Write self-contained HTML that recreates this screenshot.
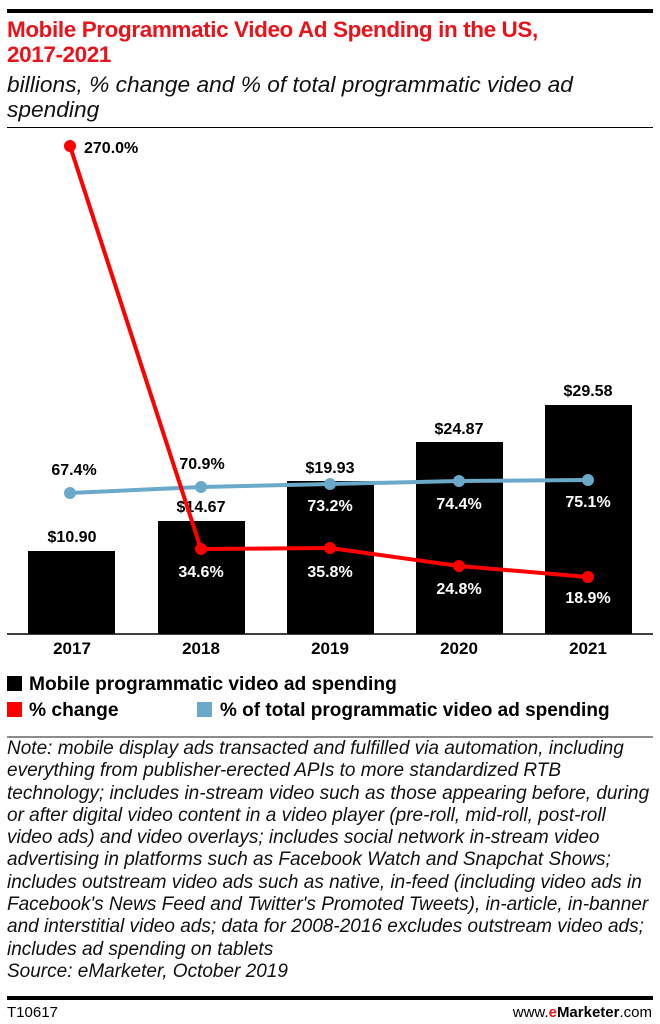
<!DOCTYPE html>
<html><head><meta charset="utf-8"><style>
body{margin:0;background:#fff;width:660px;height:1024px;position:relative;overflow:hidden;font-family:"Liberation Sans",sans-serif}
.a{position:absolute;white-space:nowrap}
.t{color:#e8141b;font-weight:bold;font-size:22.5px;line-height:25px;left:7px;letter-spacing:-0.4px}
.s{font-style:italic;font-size:22.5px;line-height:25px;left:7px;color:#111;transform:scaleX(1.01);transform-origin:left top}
.n{font-style:italic;font-size:19px;line-height:22.3px;left:7px;top:738px;color:#111;transform:scaleX(1.0);transform-origin:left top}
</style></head><body>
<div class="a" style="left:7px;top:9px;width:646px;height:4px;background:#000"></div>
<div class="a t" style="top:17px">Mobile Programmatic Video Ad Spending in the US,<br>2017-2021</div>
<div class="a s" style="top:72px">billions, % change and % of total programmatic video ad<br>spending</div>
<div class="a" style="left:7px;top:127px;width:646px;height:1px;background:#000"></div>
<svg class="a" style="left:0;top:0" width="660" height="740" font-family="Liberation Sans" font-weight="bold" font-size="16">
<g fill="#000">
<rect x="28" y="551" width="87" height="83"/><rect x="158" y="521" width="87" height="113"/><rect x="287" y="481" width="87" height="153"/><rect x="416" y="442" width="87" height="192"/><rect x="545" y="405" width="87" height="229"/>
</g>
<line x1="7" y1="634" x2="653" y2="634" stroke="#000" stroke-width="1.5"/>
<g text-anchor="middle" fill="#000">
<text x="72" y="542">$10.90</text><text x="201" y="512">$14.67</text><text x="330" y="473">$19.93</text><text x="459" y="434">$24.87</text><text x="588" y="396">$29.58</text>
<text x="72" y="654" font-size="17">2017</text><text x="201" y="654" font-size="17">2018</text><text x="330" y="654" font-size="17">2019</text><text x="459" y="654" font-size="17">2020</text><text x="588" y="654" font-size="17">2021</text>
</g>
<polyline points="70,493 201,487 330,484 459,481 588,480" fill="none" stroke="#6aa9c9" stroke-width="4"/>
<g fill="#6aa9c9"><circle cx="70" cy="493" r="6"/><circle cx="201" cy="487" r="6"/><circle cx="330" cy="484" r="6"/><circle cx="459" cy="481" r="6"/><circle cx="588" cy="480" r="6"/></g>
<polyline points="70,146 201,549 330,548 459,566 588,577" fill="none" stroke="#f00" stroke-width="4"/>
<g fill="#f00"><circle cx="70" cy="146" r="6"/><circle cx="201" cy="549" r="6"/><circle cx="330" cy="548" r="6"/><circle cx="459" cy="566" r="6"/><circle cx="588" cy="577" r="6"/></g>
<text x="84" y="153" fill="#000">270.0%</text>
<g text-anchor="middle" fill="#000"><text x="74" y="475">67.4%</text><text x="202" y="469">70.9%</text></g>
<g text-anchor="middle" fill="#fff"><text x="330" y="511">73.2%</text><text x="459" y="509">74.4%</text><text x="588" y="507">75.1%</text>
<text x="201" y="577">34.6%</text><text x="330" y="577">35.8%</text><text x="459" y="594">24.8%</text><text x="588" y="603">18.9%</text></g>
<rect x="7" y="676" width="15" height="15" fill="#000"/><text x="29" y="690" font-size="19.2">Mobile programmatic video ad spending</text>
<rect x="7" y="702" width="15" height="15" fill="#f00"/><text x="29" y="716" font-size="19.2">% change</text>
<rect x="197" y="702" width="15" height="15" fill="#6aa9c9"/><text x="220" y="716" font-size="19">% of total programmatic video ad spending</text>
<line x1="7" y1="737" x2="653" y2="737" stroke="#666" stroke-width="1.5"/>
</svg>
<div class="a n">Note: mobile display ads transacted and fulfilled via automation, including<br>everything from publisher-erected APIs to more standardized RTB<br>technology; includes in-stream video such as those appearing before, during<br>or after digital video content in a video player (pre-roll, mid-roll, post-roll<br>video ads) and video overlays; includes social network in-stream video<br>advertising in platforms such as Facebook Watch and Snapchat Shows;<br>includes outstream video ads such as native, in-feed (including video ads in<br>Facebook's News Feed and Twitter's Promoted Tweets), in-article, in-banner<br>and interstitial video ads; data for 2008-2016 excludes outstream video ads;<br>includes ad spending on tablets<br>Source: eMarketer, October 2019</div>
<div class="a" style="left:7px;top:996px;width:646px;height:4px;background:#000"></div>
<div class="a" style="left:7px;top:1004px;font-size:15px">T10617</div>
<div class="a" style="right:8px;top:1004px;font-size:15px">www.<b style="color:#e8141b">e</b><b>Marketer</b>.com</div>
</body></html>
